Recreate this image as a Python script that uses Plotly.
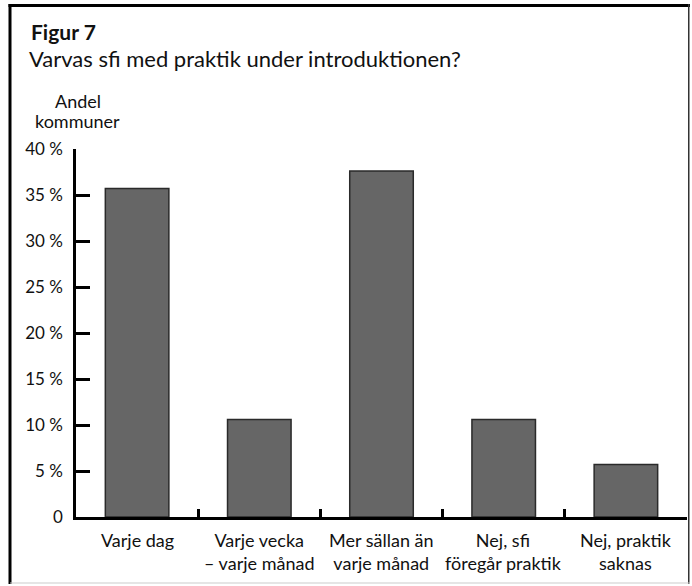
import plotly.graph_objects as go

# data
kategorier = ["Varje dag", "Varje vecka – varje månad", "Mer sällan än varje månad",
              "Nej, sfi föregår praktik", "Nej, praktik saknas"]
etiketter = ["Varje dag", "Varje vecka<br>– varje månad", "Mer sällan än<br>varje månad",
             "Nej, sfi<br>föregår praktik", "Nej, praktik<br>saknas"]
andel = [35.7, 10.6, 37.6, 10.6, 5.7]
y_ticks = [0, 5, 10, 15, 20, 25, 30, 35, 40]
y_ticktext = ["0"] + [f"{v} %" for v in y_ticks[1:]]

W, H = 692, 586
L, R, T, B = 76, 5, 149, 69
PW, PH = W - L - R, H - T - B
FONT = "Lato"


def px(x):  # pixel -> paper x
    return (x - L) / PW


def py(y):  # pixel -> paper y
    return (H - B - y) / PH


fig = go.Figure()
fig.add_trace(go.Bar(
    x=kategorier, y=andel,
    marker=dict(color="#666666", line=dict(color="#2a2a2a", width=1.5)),
    width=0.52,
))

# ram runt figuren (fyllda smala rektanglar): tjock svart vänster/topp, tunnare höger/botten
ram = [
    (8.5, 11.5, 4, 584, "black"),
    (8.5, 690, 4, 7, "black"),
    (688, 689.5, 4, 584, "#333333"),
    (10, 690, 582.5, 583.5, "#cccccc"),
]
shapes = [dict(type="rect", xref="paper", yref="paper", layer="above",
               x0=px(a), x1=px(b), y0=py(d), y1=py(c),
               fillcolor=col, line=dict(width=0))
          for a, b, c, d, col in ram]

annotations = [
    dict(text="<b>Figur 7</b>", x=px(29), y=py(31), font=dict(size=21)),
    dict(text="Varvas sfi med praktik under introduktionen?", x=px(27), y=py(58),
         font=dict(size=22)),
    dict(text="Andel", x=px(77.5), y=py(101), xanchor="center", font=dict(size=18)),
    dict(text="kommuner", x=px(77.5), y=py(121), xanchor="center", font=dict(size=18)),
]
for a in annotations:
    a.update(xref="paper", yref="paper", yanchor="middle", showarrow=False)
    a.setdefault("xanchor", "left")

# kategoritexter under x-axeln
for kat, txt in zip(kategorier, etiketter):
    annotations.append(dict(text=txt, x=kat, xref="x", y=py(527), yref="paper",
                            xanchor="center", yanchor="top", showarrow=False,
                            font=dict(size=18)))

fig.update_layout(
    width=W, height=H,
    margin=dict(l=L, r=R, t=T, b=B),
    paper_bgcolor="white", plot_bgcolor="white",
    font=dict(family=FONT, color="#111111", size=17),
    showlegend=False,
    xaxis=dict(
        tickmode="array", tickvals=kategorier, showticklabels=False,
        tickson="boundaries", ticks="inside", ticklen=8, tickwidth=2.5, tickcolor="black",
        showline=True, linewidth=2.5, linecolor="black",
        showgrid=False,
    ),
    yaxis=dict(
        range=[0, 40], tickvals=y_ticks, ticktext=y_ticktext,
        ticks="inside", ticklen=14, tickwidth=2.5, tickcolor="black",
        showline=True, linewidth=2.5, linecolor="black",
        showgrid=False, zeroline=False, tickfont=dict(size=17),
        ticklabelstandoff=7,
    ),
    shapes=shapes,
    annotations=annotations,
)

fig.write_html("out.html", config={"displayModeBar": False},
               post_script="document.body.style.margin='0px';")
